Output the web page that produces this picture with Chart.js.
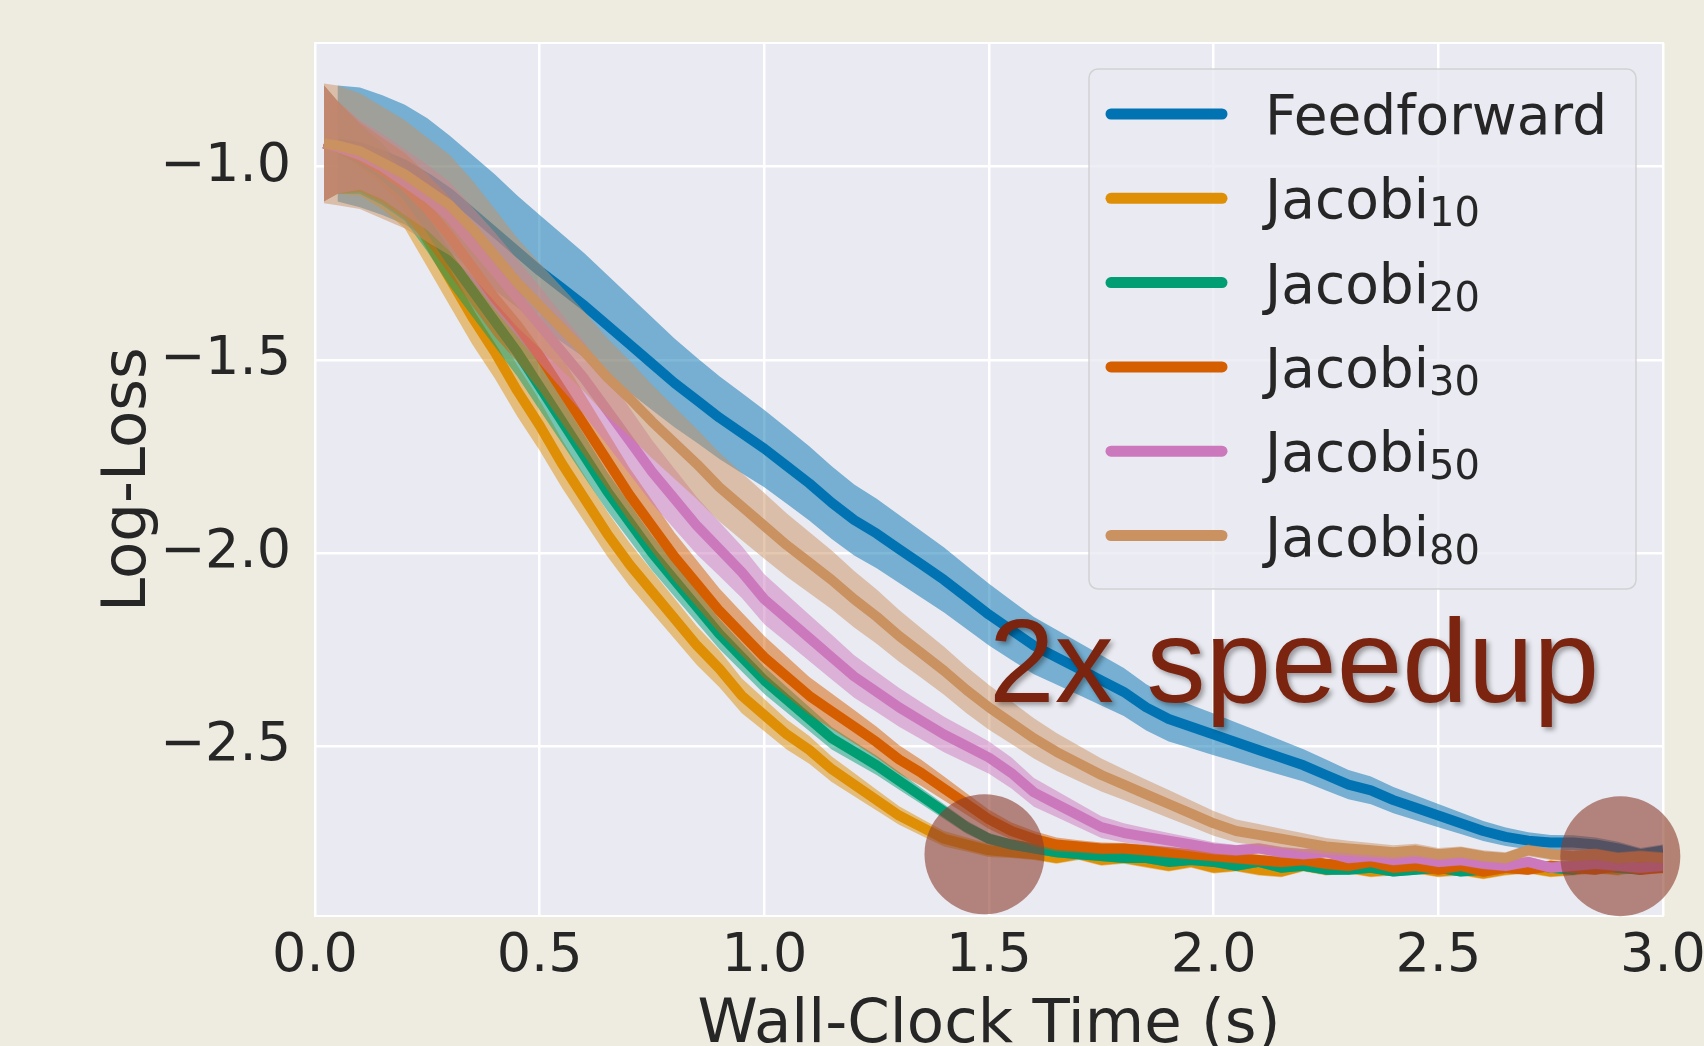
<!doctype html>
<html lang="en">
  <head>
    <meta charset="utf-8">
    <title>Log-Loss vs Wall-Clock Time</title>
    <style>
      * {
        margin: 0;
        padding: 0;
      }
      body {
        background: #EEEBE0;
        width: 1704px;
        height: 1046px;
        overflow: hidden;
      }
      canvas {
        display: block;
      }
    </style>
  </head>

  <body>
    <canvas id="myChart" width="1704" height="1046"></canvas>

    <script src="https://cdn.jsdelivr.net/npm/chart.js"></script>

    <script>
    // setup

    // wall-clock time (s) of every sample
    const times = [0.02, 0.05, 0.1, 0.15, 0.2, 0.25, 0.3, 0.35, 0.4, 0.45,
      0.5, 0.55, 0.6, 0.65, 0.7, 0.75, 0.8, 0.85, 0.9, 0.95,
      1.0, 1.05, 1.1, 1.15, 1.2, 1.25, 1.3, 1.35, 1.4, 1.45,
      1.5, 1.55, 1.6, 1.65, 1.7, 1.75, 1.8, 1.85, 1.9, 1.95,
      2.0, 2.05, 2.1, 2.15, 2.2, 2.25, 2.3, 2.35, 2.4, 2.45,
      2.5, 2.55, 2.6, 2.65, 2.7, 2.75, 2.8, 2.85, 2.9, 2.95, 3.0];

    const seriesNames = ['Feedforward', 'Jacobi', 'Jacobi', 'Jacobi', 'Jacobi', 'Jacobi'];
    const seriesSubs = ['', '10', '20', '30', '50', '80'];
    const seriesColors = ['#0173B2', '#DE8F05', '#029E73', '#D55E00', '#CC78BC', '#CA9161'];

    // mean log-loss (feedforward starts a little later)
    const lossFeedforward = [null, -0.94, -0.95, -0.97, -0.995, -1.03, -1.07, -1.12, -1.17, -1.22,
      -1.27, -1.315, -1.36, -1.41, -1.46, -1.51, -1.56, -1.605, -1.65, -1.69,
      -1.73, -1.775, -1.82, -1.87, -1.915, -1.95, -1.99, -2.03, -2.07, -2.115,
      -2.16, -2.2, -2.24, -2.27, -2.3, -2.33, -2.36, -2.4, -2.43, -2.45,
      -2.47, -2.49, -2.51, -2.53, -2.55, -2.575, -2.6, -2.615, -2.64, -2.66,
      -2.68, -2.7, -2.72, -2.735, -2.745, -2.75, -2.75, -2.755, -2.765, -2.78, -2.77];
    const lossJacobi10 = [-0.94, -0.95, -0.985, -1.03, -1.09, -1.19, -1.29, -1.39, -1.48, -1.58,
      -1.67, -1.77, -1.86, -1.95, -2.03, -2.1, -2.17, -2.24, -2.3, -2.37,
      -2.42, -2.47, -2.51, -2.56, -2.6, -2.64, -2.68, -2.71, -2.74, -2.755,
      -2.77, -2.775, -2.78, -2.79, -2.78, -2.795, -2.79, -2.8, -2.81, -2.8,
      -2.815, -2.81, -2.82, -2.825, -2.81, -2.82, -2.815, -2.825, -2.82, -2.815,
      -2.825, -2.82, -2.83, -2.82, -2.815, -2.825, -2.82, -2.815, -2.82, -2.81, -2.815];
    const lossJacobi20 = [-0.94, -0.95, -0.98, -1.02, -1.07, -1.15, -1.24, -1.32, -1.4, -1.48,
      -1.57, -1.66, -1.75, -1.84, -1.92, -2.0, -2.07, -2.14, -2.21, -2.27,
      -2.33, -2.38, -2.43, -2.48, -2.515, -2.55, -2.59, -2.63, -2.67, -2.71,
      -2.74, -2.755, -2.765, -2.775, -2.78, -2.785, -2.79, -2.79, -2.8, -2.795,
      -2.8, -2.81, -2.8, -2.815, -2.81, -2.82, -2.82, -2.815, -2.825, -2.82,
      -2.815, -2.825, -2.82, -2.81, -2.805, -2.815, -2.82, -2.81, -2.815, -2.82, -2.81];
    const lossJacobi30 = [-0.94, -0.95, -0.975, -1.01, -1.05, -1.11, -1.18, -1.26, -1.34, -1.41,
      -1.49, -1.58, -1.67, -1.76, -1.85, -1.93, -2.01, -2.08, -2.15, -2.21,
      -2.27, -2.32, -2.37, -2.41, -2.45, -2.49, -2.535, -2.57, -2.61, -2.65,
      -2.69, -2.72, -2.74, -2.755, -2.76, -2.765, -2.765, -2.77, -2.775, -2.78,
      -2.785, -2.79, -2.795, -2.8, -2.795, -2.805, -2.81, -2.8, -2.815, -2.81,
      -2.82, -2.81, -2.825, -2.815, -2.82, -2.81, -2.815, -2.82, -2.81, -2.82, -2.815];
    const lossJacobi50 = [-0.94, -0.95, -0.97, -1.0, -1.04, -1.08, -1.13, -1.2, -1.27, -1.34,
      -1.41, -1.48, -1.55, -1.63, -1.71, -1.79, -1.86, -1.93, -1.99, -2.05,
      -2.12, -2.17, -2.22, -2.27, -2.32, -2.36, -2.4, -2.435, -2.47, -2.5,
      -2.53, -2.57, -2.62, -2.65, -2.68, -2.71, -2.725, -2.735, -2.745, -2.755,
      -2.765, -2.77, -2.765, -2.775, -2.78, -2.775, -2.79, -2.785, -2.795, -2.79,
      -2.8, -2.795, -2.805, -2.81, -2.8, -2.815, -2.81, -2.805, -2.81, -2.815, -2.81];
    const lossJacobi80 = [-0.94, -0.945, -0.96, -0.99, -1.02, -1.06, -1.1, -1.16, -1.23, -1.3,
      -1.36, -1.42, -1.48, -1.545, -1.6, -1.66, -1.715, -1.77, -1.83, -1.88,
      -1.93, -1.98, -2.025, -2.07, -2.12, -2.165, -2.215, -2.26, -2.305, -2.355,
      -2.4, -2.44, -2.48, -2.515, -2.545, -2.575, -2.6, -2.625, -2.65, -2.675,
      -2.7, -2.72, -2.73, -2.74, -2.75, -2.76, -2.765, -2.77, -2.775, -2.77,
      -2.78, -2.775, -2.785, -2.79, -2.77, -2.78, -2.785, -2.78, -2.79, -2.785, -2.79];

    // half width of the shaded band round each mean
    const spreadFeedforward = [0.15, 0.15, 0.155, 0.155, 0.155, 0.155, 0.15, 0.15, 0.15, 0.145,
      0.145, 0.14, 0.135, 0.13, 0.125, 0.12, 0.115, 0.11, 0.107, 0.104,
      0.1, 0.098, 0.096, 0.094, 0.092, 0.09, 0.088, 0.086, 0.084, 0.082,
      0.08, 0.077, 0.074, 0.071, 0.068, 0.065, 0.062, 0.06, 0.058, 0.056,
      0.054, 0.051, 0.048, 0.045, 0.042, 0.04, 0.038, 0.036, 0.034, 0.032,
      0.03, 0.028, 0.026, 0.024, 0.022, 0.02, 0.019, 0.018, 0.017, 0.016, 0.015];
    const spreadJacobi10 = [0.15, 0.12, 0.09, 0.08, 0.07, 0.07, 0.07, 0.07, 0.068, 0.066,
      0.065, 0.062, 0.06, 0.058, 0.056, 0.054, 0.052, 0.05, 0.048, 0.045,
      0.042, 0.039, 0.036, 0.033, 0.03, 0.027, 0.024, 0.022, 0.02, 0.018,
      0.017, 0.015, 0.015, 0.015, 0.015, 0.015, 0.015, 0.015, 0.015, 0.015,
      0.015, 0.015, 0.015, 0.015, 0.015, 0.015, 0.015, 0.015, 0.015, 0.015,
      0.015, 0.015, 0.015, 0.015, 0.015, 0.015, 0.015, 0.015, 0.015, 0.015, 0.015];
    const spreadJacobi20 = [0.15, 0.12, 0.09, 0.08, 0.07, 0.07, 0.07, 0.068, 0.066, 0.063,
      0.06, 0.057, 0.054, 0.05, 0.047, 0.045, 0.043, 0.041, 0.039, 0.037,
      0.035, 0.033, 0.031, 0.029, 0.027, 0.025, 0.023, 0.021, 0.019, 0.017,
      0.015, 0.013, 0.013, 0.013, 0.013, 0.013, 0.013, 0.013, 0.013, 0.013,
      0.013, 0.013, 0.013, 0.013, 0.013, 0.013, 0.013, 0.013, 0.013, 0.013,
      0.013, 0.013, 0.013, 0.013, 0.013, 0.013, 0.013, 0.013, 0.013, 0.013, 0.013];
    const spreadJacobi30 = [0.15, 0.12, 0.09, 0.085, 0.085, 0.09, 0.1, 0.1, 0.1, 0.095,
      0.09, 0.085, 0.08, 0.075, 0.07, 0.066, 0.063, 0.06, 0.058, 0.056,
      0.055, 0.052, 0.049, 0.046, 0.043, 0.04, 0.037, 0.034, 0.031, 0.028,
      0.025, 0.022, 0.02, 0.018, 0.016, 0.015, 0.014, 0.014, 0.014, 0.014,
      0.014, 0.014, 0.014, 0.014, 0.014, 0.014, 0.014, 0.014, 0.014, 0.014,
      0.014, 0.014, 0.014, 0.014, 0.014, 0.014, 0.014, 0.014, 0.014, 0.014, 0.014];
    const spreadJacobi50 = [0.15, 0.12, 0.09, 0.085, 0.085, 0.085, 0.09, 0.095, 0.1, 0.1,
      0.1, 0.097, 0.094, 0.09, 0.086, 0.082, 0.078, 0.074, 0.07, 0.067,
      0.065, 0.062, 0.06, 0.058, 0.055, 0.052, 0.05, 0.048, 0.046, 0.044,
      0.042, 0.04, 0.037, 0.034, 0.031, 0.028, 0.025, 0.022, 0.02, 0.018,
      0.016, 0.014, 0.014, 0.014, 0.014, 0.014, 0.014, 0.014, 0.014, 0.014,
      0.014, 0.014, 0.014, 0.014, 0.014, 0.014, 0.014, 0.014, 0.014, 0.014, 0.014];
    const spreadJacobi80 = [0.155, 0.155, 0.15, 0.145, 0.14, 0.135, 0.13, 0.125, 0.12, 0.115,
      0.11, 0.107, 0.104, 0.101, 0.098, 0.095, 0.093, 0.091, 0.089, 0.087,
      0.085, 0.082, 0.079, 0.076, 0.073, 0.07, 0.067, 0.064, 0.062, 0.06,
      0.058, 0.055, 0.052, 0.049, 0.046, 0.043, 0.04, 0.038, 0.036, 0.034,
      0.032, 0.03, 0.028, 0.026, 0.024, 0.022, 0.02, 0.019, 0.018, 0.017,
      0.016, 0.015, 0.015, 0.015, 0.015, 0.015, 0.015, 0.015, 0.015, 0.015, 0.015];

    const seriesLoss = [lossFeedforward, lossJacobi10, lossJacobi20, lossJacobi30, lossJacobi50, lossJacobi80];
    const seriesSpread = [spreadFeedforward, spreadJacobi10, spreadJacobi20, spreadJacobi30, spreadJacobi50, spreadJacobi80];

    // tick labels
    const xTicks = [0.0, 0.5, 1.0, 1.5, 2.0, 2.5, 3.0];
    const yTicks = [-1.0, -1.5, -2.0, -2.5];

    // the two highlighted points and the note
    const highlightTimes = [1.49, 2.905];
    const highlightLoss = [-2.78, -2.785];
    const noteText = '2x speedup';
    const noteAt = { x: 1.5, y: -2.385 };

    function withAlpha(hex, a) {
      const n = parseInt(hex.slice(1), 16);
      return `rgba(${(n >> 16) & 255},${(n >> 8) & 255},${n & 255},${a})`;
    }

    function point(t, v) {
      return { x: t, y: v };
    }

    // build datasets: lower bound, upper bound (filled to lower), mean line
    const datasets = [];
    seriesNames.forEach((name, k) => {
      const loss = seriesLoss[k];
      const spread = seriesSpread[k];
      const lowerIndex = datasets.length;
      datasets.push({
        label: 'lower',
        data: times.map((t, i) => point(t, loss[i] === null ? null : loss[i] - spread[i])),
        borderColor: 'transparent',
        borderWidth: 0,
        pointRadius: 0,
        fill: false,
        order: 100 - 3 * k
      });
      datasets.push({
        label: 'upper',
        data: times.map((t, i) => point(t, loss[i] === null ? null : loss[i] + spread[i])),
        borderColor: 'transparent',
        borderWidth: 0,
        pointRadius: 0,
        backgroundColor: withAlpha(seriesColors[k], 0.5),
        fill: lowerIndex,
        order: 99 - 3 * k
      });
      datasets.push({
        label: name + seriesSubs[k],
        data: times.map((t, i) => point(t, loss[i])),
        borderColor: seriesColors[k],
        borderWidth: 10,
        borderJoinStyle: 'round',
        pointRadius: 0,
        fill: false,
        order: 98 - 3 * k
      });
    });
    datasets.push({
      label: 'highlight',
      data: highlightTimes.map((t, i) => point(t, highlightLoss[i])),
      showLine: false,
      pointRadius: 60,
      pointBorderWidth: 0,
      pointBackgroundColor: 'rgba(140,60,45,0.6)',
      clip: false,
      order: 0
    });

    // plot background + white frame
    const plotBackground = {
      id: 'plotBackground',
      beforeDraw(chart) {
        const { ctx, chartArea: a } = chart;
        ctx.save();
        ctx.fillStyle = '#EEEBE0';
        ctx.fillRect(0, 0, chart.width, chart.height);
        ctx.fillStyle = '#EAEAF2';
        ctx.fillRect(a.left, a.top, a.right - a.left, a.bottom - a.top);
        ctx.restore();
      },
      beforeDatasetsDraw(chart) {
        const { ctx, chartArea: a } = chart;
        ctx.save();
        ctx.strokeStyle = '#ffffff';
        ctx.lineWidth = 2;
        ctx.strokeRect(a.left, a.top, a.right - a.left, a.bottom - a.top);
        ctx.restore();
      }
    };

    // "2x speedup" text with a soft shadow
    const speedupNote = {
      id: 'speedupNote',
      afterDatasetsDraw(chart) {
        const { ctx, scales: { x, y } } = chart;
        ctx.save();
        ctx.font = '118px "Liberation Sans", Arial, sans-serif';
        ctx.fillStyle = '#7B2410';
        ctx.textBaseline = 'alphabetic';
        ctx.shadowColor = 'rgba(0,0,0,0.35)';
        ctx.shadowBlur = 5;
        ctx.shadowOffsetX = 3;
        ctx.shadowOffsetY = 3;
        ctx.fillText(noteText, x.getPixelForValue(noteAt.x), y.getPixelForValue(noteAt.y));
        ctx.restore();
      }
    };

    // matplotlib-like legend box with subscripts
    const legendBox = {
      id: 'legendBox',
      afterDraw(chart) {
        const { ctx, chartArea } = chart;
        const w = 547, h = 520, r = 9;
        const left = chartArea.right - 27 - w;
        const top = chartArea.top + 26;
        ctx.save();
        ctx.beginPath();
        ctx.moveTo(left + r, top);
        ctx.arcTo(left + w, top, left + w, top + h, r);
        ctx.arcTo(left + w, top + h, left, top + h, r);
        ctx.arcTo(left, top + h, left, top, r);
        ctx.arcTo(left, top, left + w, top, r);
        ctx.closePath();
        ctx.fillStyle = 'rgba(234,234,242,0.8)';
        ctx.fill();
        ctx.lineWidth = 1.5;
        ctx.strokeStyle = 'rgba(204,204,204,0.8)';
        ctx.stroke();

        seriesNames.forEach((name, k) => {
          const cy = top + 45 + k * 84.3;
          ctx.beginPath();
          ctx.moveTo(left + 22, cy);
          ctx.lineTo(left + 133, cy);
          ctx.lineWidth = 11;
          ctx.lineCap = 'round';
          ctx.strokeStyle = seriesColors[k];
          ctx.stroke();

          ctx.fillStyle = '#262626';
          ctx.textBaseline = 'alphabetic';
          ctx.font = '55px "DejaVu Sans"';
          ctx.fillText(name, left + 176, cy + 20);
          if (seriesSubs[k]) {
            const nameWidth = ctx.measureText(name).width;
            ctx.font = '40px "DejaVu Sans"';
            ctx.fillText(seriesSubs[k], left + 176 + nameWidth, cy + 28);
          }
        });
        ctx.restore();
      }
    };

    Chart.defaults.font.family = '"DejaVu Sans"';
    Chart.defaults.color = '#262626';

    // config
    const config = {
      type: 'line',
      data: { datasets },
      options: {
        responsive: false,
        animation: false,
        events: [],
        layout: {
          autoPadding: false,
          padding: { left: 0, top: 43, right: 41, bottom: 0 }
        },
        plugins: {
          legend: { display: false },
          tooltip: { enabled: false },
          filler: { drawTime: 'beforeDatasetDraw', propagate: false }
        },
        elements: {
          line: { tension: 0 }
        },
        scales: {
          x: {
            type: 'linear',
            min: 0,
            max: 3,
            afterBuildTicks: (scale) => {
              scale.ticks = xTicks.map(v => ({ value: v }));
            },
            afterFit: (scale) => {
              scale.height = 130;
              scale.paddingLeft = 0;
              scale.paddingRight = 0;
            },
            grid: { color: '#ffffff', lineWidth: 2.5, drawTicks: false },
            border: { display: false },
            ticks: {
              padding: 9,
              maxRotation: 0,
              autoSkip: false,
              font: { size: 54 },
              callback: (value) => value.toFixed(1)
            },
            title: {
              display: true,
              text: 'Wall-Clock Time (s)',
              font: { size: 61, lineHeight: 0.66 },
              padding: { top: 0, bottom: 0 }
            }
          },
          y: {
            type: 'linear',
            min: -2.94,
            max: -0.68,
            afterBuildTicks: (scale) => {
              scale.ticks = yTicks.map(v => ({ value: v }));
            },
            afterFit: (scale) => {
              scale.width = 315;
              scale.paddingTop = 0;
              scale.paddingBottom = 0;
            },
            grid: { color: '#ffffff', lineWidth: 2.5, drawTicks: false },
            border: { display: false },
            ticks: {
              padding: 24,
              font: { size: 54 },
              callback: (value) => value.toFixed(1).replace('-', '\u2212')
            },
            title: {
              display: true,
              text: 'Log-Loss',
              font: { size: 61, lineHeight: 1 },
              padding: { top: 99, bottom: 0 }
            }
          }
        }
      },
      plugins: [plotBackground, speedupNote, legendBox]
    };

    // render init block
    const myChart = new Chart(
      document.getElementById('myChart'),
      config
    );
    </script>
  </body>
</html>
